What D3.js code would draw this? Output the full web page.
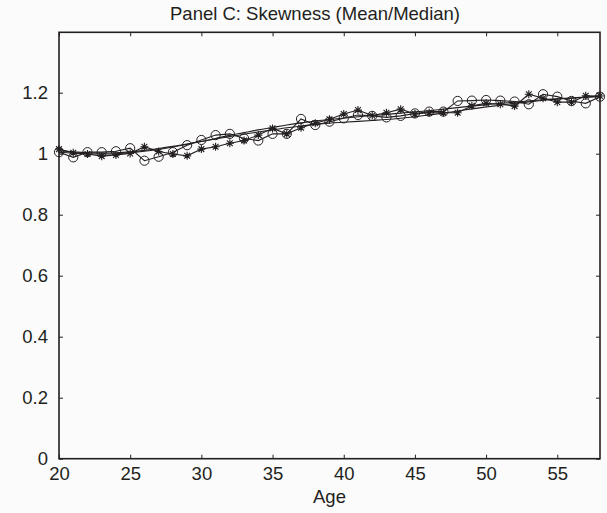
<!DOCTYPE html>
<html><head><meta charset="utf-8">
<script src="https://cdn.jsdelivr.net/npm/d3@7"></script>
<style>
html,body{margin:0;padding:0;background:#fbfbfb;}
svg{display:block;font-family:"Liberation Sans",Arial,Helvetica,sans-serif;}
</style></head>
<body><svg id="c" width="607" height="513"></svg>
<script>
const ages = d3.range(20, 59);
const circleSeries = [1.005,0.988,1.005,1.005,1.008,1.018,0.977,0.990,1.005,1.028,1.045,1.061,1.065,1.050,1.043,1.065,1.065,1.114,1.094,1.105,1.116,1.127,1.124,1.119,1.124,1.132,1.138,1.138,1.173,1.174,1.176,1.174,1.171,1.162,1.195,1.187,1.173,1.165,1.187];
const starSeries = [1.015,1.003,0.999,0.992,0.996,1.001,1.023,1.007,0.999,0.993,1.015,1.023,1.034,1.043,1.061,1.083,1.065,1.085,1.100,1.113,1.130,1.143,1.125,1.134,1.146,1.130,1.134,1.134,1.134,1.157,1.165,1.162,1.156,1.195,1.182,1.169,1.169,1.190,1.189];
const smoothA = [1.005,1.002,1.000,0.999,1.000,1.003,1.008,1.014,1.022,1.031,1.040,1.050,1.060,1.069,1.078,1.086,1.094,1.101,1.107,1.112,1.117,1.121,1.125,1.129,1.133,1.137,1.141,1.146,1.151,1.156,1.161,1.165,1.169,1.173,1.177,1.180,1.183,1.186,1.189];
const smoothB = [1.010,1.006,1.003,1.002,1.003,1.006,1.011,1.017,1.024,1.032,1.040,1.048,1.056,1.064,1.071,1.078,1.085,1.091,1.096,1.100,1.103,1.106,1.109,1.112,1.116,1.121,1.127,1.133,1.140,1.147,1.153,1.159,1.165,1.170,1.175,1.179,1.182,1.185,1.187];
const xTicks = [20,25,30,35,40,45,50,55];
const yTicks = [0,0.2,0.4,0.6,0.8,1,1.2];
const yTickLabels = ["0","0.2","0.4","0.6","0.8","1","1.2"];
const title = "Panel C: Skewness (Mean/Median)";
const xLabel = "Age";

const L=59, R=600, T=32.3, B=458.7;
const svg = d3.select("#c");
const x = d3.scaleLinear().domain([20,58]).range([L,R]);
const y = d3.scaleLinear().domain([0,1.398]).range([B,T]);
const ink = "#231f20";

const line = d3.line().x((d,i)=>x(ages[i])).y(d=>y(d));
const smoothLine = d3.line().x((d,i)=>x(ages[i])).y(d=>y(d)).curve(d3.curveMonotoneX);
[smoothA, smoothB].forEach(s=>{
  svg.append("path").attr("d", smoothLine(s)).attr("fill","none").attr("stroke",ink).attr("stroke-width",1.1);
});
[circleSeries, starSeries].forEach(s=>{
  svg.append("path").attr("d", line(s)).attr("fill","none").attr("stroke",ink).attr("stroke-width",1.1);
});
svg.append("g").selectAll("circle").data(circleSeries).join("circle")
  .attr("cx",(d,i)=>x(ages[i])).attr("cy",d=>y(d)).attr("r",4.6)
  .attr("fill","none").attr("stroke",ink).attr("stroke-width",1);
const s=4, sd=s*0.72;
const starPath = `M${-s},0L${s},0M0,${-s}L0,${s}M${-sd},${-sd}L${sd},${sd}M${-sd},${sd}L${sd},${-sd}`;
svg.append("g").selectAll("path").data(starSeries).join("path")
  .attr("transform",(d,i)=>`translate(${x(ages[i])},${y(d)})`)
  .attr("d",starPath).attr("fill","none").attr("stroke",ink).attr("stroke-width",1.1);

const fs = 18.5;
const xAxis = d3.axisBottom(x).tickValues(xTicks).tickSize(-4).tickPadding(8).tickFormat(d3.format("d"));
const gx = svg.append("g").attr("transform",`translate(0,${B})`).call(xAxis);
const yAxis = d3.axisLeft(y).tickValues(yTicks).tickSize(-4).tickPadding(11).tickFormat((d,i)=>yTickLabels[i]);
const gy = svg.append("g").attr("transform",`translate(${L},0)`).call(yAxis);
const xTop = d3.axisTop(x).tickValues(xTicks).tickSize(-4).tickFormat("");
const gxt = svg.append("g").attr("transform",`translate(0,${T})`).call(xTop);
const yRight = d3.axisRight(y).tickValues(yTicks).tickSize(-4).tickFormat("");
const gyr = svg.append("g").attr("transform",`translate(${R},0)`).call(yRight);
[gx,gy,gxt,gyr].forEach(g=>{
  g.select(".domain").remove();
  g.selectAll(".tick line").attr("stroke",ink).attr("stroke-width",1);
  g.selectAll(".tick text").attr("fill",ink).style("font-size",fs+"px").style("font-family",'"Liberation Sans",Arial,sans-serif');
});
gx.selectAll(".tick text").attr("dy","0.71em");
gy.selectAll(".tick text").attr("dy","0.34em");
svg.append("rect").attr("x",L).attr("y",T).attr("width",R-L).attr("height",B-T)
  .attr("fill","none").attr("stroke",ink).attr("stroke-width",1.6);

svg.append("text").attr("x",315).attr("y",20).attr("text-anchor","middle")
  .attr("fill",ink).style("font-size","18.5px").text(title);
svg.append("text").attr("x",(L+R)/2).attr("y",503).attr("text-anchor","middle")
  .attr("fill",ink).style("font-size","18.5px").text(xLabel);
</script></body></html>
